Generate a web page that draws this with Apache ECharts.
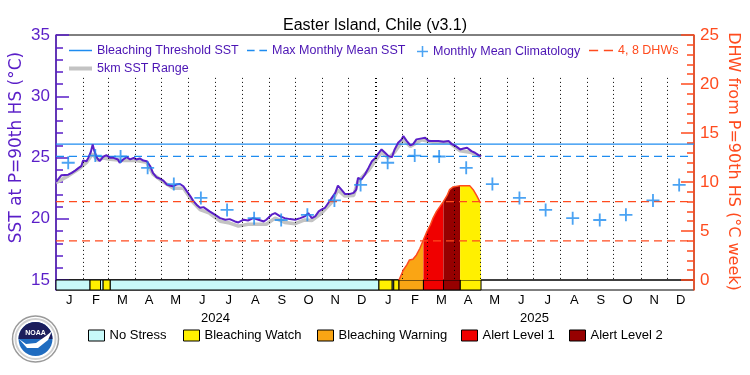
<!DOCTYPE html>
<html><head><meta charset="utf-8">
<script src="https://cdn.jsdelivr.net/npm/echarts@6/dist/echarts.min.js"></script>
<style>html,body{margin:0;padding:0;background:#fff}#c{width:750px;height:375px}</style>
</head><body><div id="c"></div>
<script>
// ---------- data ----------
const monthLetters = ['J','F','M','A','M','J','J','A','S','O','N','D'];
const years = ['2024','2025'];
// daily SST (days since 2024-01-01)
const sstDays = [0,6,14,18,22,26,29,31,35,37,40,42,44,47,50,54,58,62,66,71,73,77,81,85,89,92,96,100,104,108,111,115,119,123,127,131,134,138,142,146,150,154,157,161,165,169,171,176,182,188,194,199,205,209,215,220,226,232,238,241,247,251,257,262,268,274,280,285,289,293,297,301,304,308,312,316,320,323,327,331,337,341,344,346,350,354,358,362,366,369,373,377,381,385,388,392,396,398,402,406,409,413,419,423,427,432,438,444,450,453,458,463,467,471,476,480,484,487];
const sstValues = [23.0,23.55,23.6,23.74,23.93,24.15,24.29,24.75,24.7,24.97,25.47,26.07,25.52,24.97,24.7,25.06,25.19,24.97,24.97,24.84,24.57,24.84,25.03,24.84,24.97,24.84,24.92,24.75,24.7,24.29,23.74,23.39,23.28,23.11,22.79,22.7,22.65,22.79,22.84,22.65,22.24,21.83,21.48,21.15,20.9,20.95,20.88,20.6,20.33,20.05,19.92,19.97,19.78,19.7,19.92,19.86,20.05,19.92,19.78,19.92,20.33,20.46,20.19,20.05,19.97,19.92,20.05,20.19,20.46,20.05,20.19,20.6,20.74,20.88,21.29,21.7,22.11,22.7,22.38,22.03,22.03,22.11,22.38,23.34,23.2,23.61,24.15,24.7,24.97,25.3,25.66,25.39,25.11,25.03,25.66,26.2,26.48,26.75,26.34,26.0,26.07,26.48,26.56,26.61,26.34,26.34,26.34,26.28,26.34,26.12,25.93,25.66,25.74,25.8,25.52,25.39,25.19,25.11];
// 5km SST range (lower edge)
const rangeDays = [0,14,26,35,42,47,54,62,77,92,104,111,123,134,146,157,165,176,188,199,209,220,232,241,251,262,274,285,293,304,316,323,331,341,346,358,366,373,381,388,398,406,419,432,450,463,476,487];
const rangeLow = [22.95,23.5,24.05,24.6,25.3,24.8,24.95,24.85,24.75,24.75,24.6,23.65,23.0,22.5,22.5,21.35,20.75,20.45,19.8,19.65,19.4,19.55,19.55,19.55,20.05,19.7,19.6,19.9,19.85,20.45,21.35,22.35,21.85,21.9,23.05,23.95,24.75,25.45,24.95,25.45,26.45,25.9,26.45,26.25,26.25,25.55,25.4,25.05];
const climatology = [24.57,25.16,25.08,24.16,22.83,21.7,20.72,20.05,19.9,20.32,21.5,22.76];
const maxMonthlyMean = 25.1;
const bleachingThreshold = 26.1;
const dhwLevels = [4, 8];
const dhwDays = [393,398,402,405,409,413,417,421,425,429,432,436,440,444,448,451,455,457,463,474,478,482,486,487];
const dhwValues = [0,1.02,1.54,2.05,2.12,2.56,3.24,4.1,4.95,5.64,6.32,7.0,7.51,8.03,8.6,9.22,9.5,9.63,9.63,9.63,9.22,8.6,7.92,7.9];
const stressNames = ['No Stress','Bleaching Watch','Bleaching Warning','Alert Level 1','Alert Level 2'];
const stressStart = [0,39,51,54,62,370,385,387,393,421,444,463];
const stressEnd   = [39,51,54,62,370,385,387,393,421,444,463,487];
const stressLevel = [0,1,0,1,0,1,0,1,2,3,4,1];

// ---------- styles ----------
const stressColors = ['#c8fafa','#fff000','#faa514','#f00000','#960000'];
const PURPLE = '#5a1ec8', PTEXT = '#4b14b4', BLUE = '#1e8cf0', RED = '#ff4b1e', GRAY = '#c3c3c3';
const FONT = 'Liberation Sans';

const DAYMS = 86400000;
const T0 = Date.UTC(2024,0,1), T1 = Date.UTC(2026,0,1);
const t = d => T0 + d * DAYMS;

const sstData = sstDays.map((d,i)=>[t(d), sstValues[i]]);
const rangeData = rangeDays.map((d,i)=>[t(d), rangeLow[i]]);
const climData = [];
for (let i=0;i<24;i++) climData.push([Date.UTC(2024,i,15), climatology[i%12]]);
const dhwData = dhwDays.map((d,i)=>[t(d), dhwValues[i]]);

const monthLines = [];
for (let i=1;i<24;i++){
  const tm = Date.UTC(2024,i,1);
  monthLines.push([{coord:[tm,31.5], lineStyle:{width: i===12?2:1}},{coord:[tm,15]}]);
}

const PLUS = 'path://M4.3,0H5.7V4.3H10V5.7H5.7V10H4.3V5.7H0V4.3H4.3Z';

const series = [];
series.push({type:'line', xAxisIndex:0, yAxisIndex:0, data:[], silent:true, z:1,
  markLine:{silent:true, symbol:['none','none'], label:{show:false},
    lineStyle:{color:'#000', type:[1,3], width:1}, data: monthLines}});
series.push({name:'5km SST Range', type:'line', xAxisIndex:0, yAxisIndex:0, data:rangeData, showSymbol:false, symbol:'none',
  color:GRAY, lineStyle:{color:GRAY, width:3.5}, z:2, silent:true});
series.push({name:'Bleaching Threshold SST', type:'line', xAxisIndex:0, yAxisIndex:0,
  data:[[T0,bleachingThreshold],[T1,bleachingThreshold]], symbol:'none', color:BLUE, lineStyle:{color:BLUE,width:1.2}, z:2, silent:true});
series.push({name:'Max Monthly Mean SST', type:'line', xAxisIndex:0, yAxisIndex:0,
  data:[[T0,maxMonthlyMean],[Date.UTC(2025,11,27),maxMonthlyMean]], symbol:'none', color:BLUE, lineStyle:{color:BLUE,width:1.2,type:[8,5]}, z:2, silent:true});
series.push({name:'SST', type:'line', xAxisIndex:0, yAxisIndex:0, data:sstData, symbol:'none', color:PURPLE,
  lineStyle:{color:PURPLE, width:2}, z:3, silent:true});
for (let k=0;k<stressStart.length;k++){
  const pts = dhwDays.map((d,i)=>[d,dhwValues[i]]).filter(p=>p[0]>=stressStart[k] && p[0]<=stressEnd[k]);
  if (pts.length<2) continue;
  series.push({type:'line', xAxisIndex:0, yAxisIndex:1, data:pts.map(p=>[t(p[0]),p[1]]), symbol:'none',
    lineStyle:{width:0}, areaStyle:{color:stressColors[stressLevel[k]], opacity:1, origin:'start'}, z:4, silent:true});
}
series.push({type:'line', xAxisIndex:0, yAxisIndex:1, data:dhwData, symbol:'none', color:RED, lineStyle:{color:RED,width:1.5}, z:5, silent:true});
dhwLevels.forEach(v=>{
  series.push({name:'4, 8 DHWs', type:'line', xAxisIndex:0, yAxisIndex:1, data:[[T0,v],[T1,v]], symbol:'none',
    color:RED, lineStyle:{color:RED,width:1.2,type:[8,5]}, z:6, silent:true});
});
series.push({name:'Monthly Mean Climatology', type:'scatter', xAxisIndex:0, yAxisIndex:0, data:climData,
  symbol:PLUS, symbolSize:13, color:BLUE, itemStyle:{color:BLUE}, z:7, silent:true});
stressNames.forEach((nm,lv)=>{
  const data = [];
  for (let k=0;k<stressStart.length;k++) if (stressLevel[k]===lv) data.push([t(stressStart[k]), t(stressEnd[k]), 0.5]);
  series.push({name:nm, type:'custom', xAxisIndex:1, yAxisIndex:2, data, color:stressColors[lv], itemStyle:{color:stressColors[lv]},
    encode:{x:[0,1], y:2}, silent:true, z:3,
    renderItem:(params, api)=>{
      const p0 = api.coord([api.value(0), 1]);
      const p1 = api.coord([api.value(1), 0]);
      return {type:'rect', shape:{x:p0[0], y:p0[1], width:p1[0]-p0[0], height:p1[1]-p0[1]},
        style:{fill:stressColors[lv], stroke:'#000', lineWidth:1}};
    }});
});

const topText = {fontFamily:FONT, fontSize:12.5, color:PTEXT};
const botText = {fontFamily:FONT, fontSize:13, color:'#000'};
function lg(name, icon, left, top, w, h, color, text, extra){
  return {show:true, selectedMode:false, padding:0, left, top, itemWidth:w, itemHeight:h, symbolKeepAspect:false,
    data:[{name, icon, itemStyle:Object.assign({color, borderWidth:0}, extra||{})}], textStyle:text};
}

const option = {
  animation:false,
  backgroundColor:'#fff',
  title:{text:'Easter Island, Chile (v3.1)', left:'center', top:13,
    textStyle:{fontFamily:FONT, fontSize:16, fontWeight:'normal', color:'#000'}},
  grid:[
    {left:56, right:56, top:35, height:245, show:true, borderColor:'#000', borderWidth:1, containLabel:false, outerBoundsMode:'none'},
    {left:56, right:56, top:280, height:10, show:true, borderColor:'#000', borderWidth:1, containLabel:false, outerBoundsMode:'none'}
  ],
  xAxis:[
    {type:'time', gridIndex:0, min:T0, max:T1, show:false},
    {type:'time', gridIndex:1, min:T0, max:T1, show:false},
    {type:'category', gridIndex:1, position:'bottom', data: monthLetters.concat(monthLetters), boundaryGap:true,
      axisLine:{show:false}, axisTick:{show:false}, splitLine:{show:false},
      axisLabel:{interval:0, margin:4, fontFamily:FONT, fontSize:13, color:'#000'}},
    {type:'category', gridIndex:1, position:'bottom', offset:18, data: years, boundaryGap:true,
      axisLine:{show:false}, axisTick:{show:false}, splitLine:{show:false},
      axisLabel:{interval:0, margin:4, fontFamily:FONT, fontSize:13, color:'#000'}}
  ],
  yAxis:[
    {type:'value', gridIndex:0, position:'left', min:15, max:35, interval:5,
      axisLine:{show:true, lineStyle:{color:PURPLE, width:1.5}},
      axisTick:{show:true, inside:true, length:13, lineStyle:{color:PURPLE, width:1.5}},
      minorTick:{show:true, splitNumber:5, length:7, lineStyle:{color:PURPLE, width:1.5}},
      splitLine:{show:false},
      axisLabel:{margin:6, fontFamily:FONT, fontSize:17, color:PURPLE},
      name:'SST at P=90th HS (°C)', nameLocation:'middle', nameGap:31, nameRotate:90, nameMoveOverlap:false,
      nameTextStyle:{fontFamily:'DejaVu Sans', fontSize:17, color:PURPLE, padding:[0,0,0,20]}},
    {type:'value', gridIndex:0, position:'right', min:0, max:25, interval:5,
      axisLine:{show:true, lineStyle:{color:RED, width:1.5}},
      axisTick:{show:true, inside:true, length:13, lineStyle:{color:RED, width:1.5}},
      minorTick:{show:true, splitNumber:5, length:7, lineStyle:{color:RED, width:1.5}},
      splitLine:{show:false},
      axisLabel:{margin:6, fontFamily:FONT, fontSize:17, color:RED},
      name:'DHW from P=90th HS (°C week)', nameLocation:'middle', nameGap:31, nameRotate:-90, nameMoveOverlap:false,
      nameTextStyle:{fontFamily:'DejaVu Sans', fontSize:16, color:RED, padding:[0,0,0,8]}},
    {type:'value', gridIndex:1, position:'left', min:0, max:1, axisLine:{show:true, lineStyle:{color:PURPLE,width:1.5}},
      axisTick:{show:false}, axisLabel:{show:false}, splitLine:{show:false}},
    {type:'value', gridIndex:1, position:'right', min:0, max:1, axisLine:{show:true, lineStyle:{color:RED,width:1.5}},
      axisTick:{show:false}, axisLabel:{show:false}, splitLine:{show:false}}
  ],
  legend:[
    lg('Bleaching Threshold SST','path://M0,0H10V1H0Z',69,44,23,1.5,BLUE,topText),
    lg('Max Monthly Mean SST','path://M0,0H8V1H0Z M13,0H21V1H13Z',247,44,20,1.5,BLUE,topText),
    lg('Monthly Mean Climatology',PLUS,417,45,11,11,BLUE,topText),
    lg('4, 8 DHWs','path://M0,0H8V1H0Z M13,0H21V1H13Z',589,44,24,1.5,RED,Object.assign({},topText,{color:RED})),
    lg('5km SST Range','path://M0,0H10V1H0Z',69,62,23,4,GRAY,topText),
    lg('No Stress','rect',88,329,16,11,stressColors[0],botText,{borderColor:'#000',borderWidth:1}),
    lg('Bleaching Watch','rect',183,329,16,11,stressColors[1],botText,{borderColor:'#000',borderWidth:1}),
    lg('Bleaching Warning','rect',317,329,16,11,stressColors[2],botText,{borderColor:'#000',borderWidth:1}),
    lg('Alert Level 1','rect',461,329,16,11,stressColors[3],botText,{borderColor:'#000',borderWidth:1}),
    lg('Alert Level 2','rect',569,329,16,11,stressColors[4],botText,{borderColor:'#000',borderWidth:1})
  ],
  graphic:[
    {type:'circle', shape:{cx:35.5, cy:339, r:23}, style:{fill:'#fff', stroke:'#9a9a9a', lineWidth:1.5}, z:10},
    {type:'circle', shape:{cx:35.5, cy:339, r:20}, style:{fill:'none', stroke:'#d0d0d0', lineWidth:2}, z:10},
    {type:'circle', shape:{cx:35.5, cy:339, r:17}, style:{fill:'#1f6cc0'}, z:11},
    {type:'sector', shape:{cx:35.5, cy:339, r:17, r0:0, startAngle:Math.PI, endAngle:2*Math.PI}, style:{fill:'#1b1d5c'}, z:12},
    {type:'polygon', shape:{points:[[19,339],[26,344],[36,343],[46,336],[52,331],[48,340],[38,348],[27,348]]}, style:{fill:'#fff'}, z:13},
    {type:'text', style:{text:'NOAA', x:35.5, y:333, fill:'#fff', font:'bold 7px Liberation Sans', align:'center', verticalAlign:'middle'}, z:14}
  ],
  series
};
const chart = echarts.init(document.getElementById('c'), null, {renderer:'canvas'});
chart.setOption(option);
</script></body></html>
